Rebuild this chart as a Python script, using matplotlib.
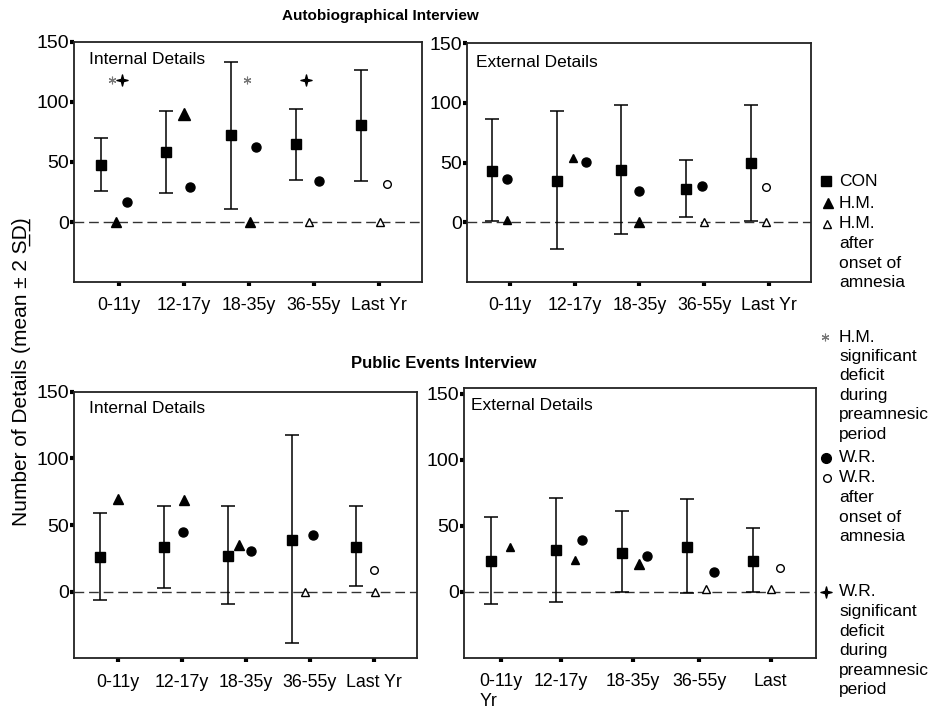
from __future__ import annotations

import matplotlib

matplotlib.use("Agg")
import matplotlib.pyplot as plt
import numpy as np
from matplotlib.path import Path

plt.rcParams["font.family"] = ["Liberation Sans", "DejaVu Sans"]

W, H = 936, 711

AGE_BINS = ["0-11y", "12-17y", "18-35y", "36-55y", "Last Yr"]
AGE_BINS_SHIFTED = ["0-11y\nYr", "12-17y", "18-35y", "36-55y", "Last"]
HM_AFTER_ONSET = [False, False, False, True, True]
WR_AFTER_ONSET = [False, False, False, False, True]
SIG_LEVEL = 118

# Autobiographical interview, internal details
AUTO_INT_CON = [47.8, 58.0, 72.2, 64.7, 80.6]
AUTO_INT_CON_LO = [26.0, 24.2, 11.1, 35.0, 33.9]
AUTO_INT_CON_HI = [70.0, 92.8, 133.4, 94.0, 127.0]
AUTO_INT_HM = [0, 90, 0, 0, 0]
AUTO_INT_WR = [16.4, 29.2, 62.5, 34.2, 31.4]
AUTO_INT_HM_SIG = [True, False, True, False, False]
AUTO_INT_WR_SIG = [True, False, False, True, False]

# Autobiographical interview, external details
AUTO_EXT_CON = [43.2, 34.9, 43.5, 28.1, 49.4]
AUTO_EXT_CON_LO = [1.0, -22.6, -9.5, 4.2, 1.0]
AUTO_EXT_CON_HI = [86.3, 93.5, 98.2, 52.4, 98.2]
AUTO_EXT_HM = [2, 53.6, 0, 0, 0]
AUTO_EXT_WR = [36.0, 50.2, 26.2, 30.7, 29.8]

# Public events interview, internal details
PUB_INT_CON = [26.0, 33.2, 27.0, 38.5, 33.2]
PUB_INT_CON_LO = [-6.2, 2.8, -9.2, -38.7, 4.3]
PUB_INT_CON_HI = [59.0, 64.5, 64.0, 117.8, 64.0]
PUB_INT_HM = [69.5, 68.8, 35.3, 0, 0]
PUB_INT_WR = [np.nan, 44.8, 30.8, 42.8, 16.3]

# Public events interview, external details
PUB_EXT_CON = [23.4, 31.4, 29.4, 34.0, 23.4]
PUB_EXT_CON_LO = [-8.8, -8.0, 0.0, -1.2, 0.0]
PUB_EXT_CON_HI = [56.6, 70.9, 61.1, 70.4, 48.6]
PUB_EXT_HM = [34.0, 24.0, 21.4, 2, 2]
PUB_EXT_WR = [np.nan, 39.5, 27.2, 15.1, 17.9]

PANELS = [
    {
        "title": "Internal Details",
        "con": AUTO_INT_CON, "lo": AUTO_INT_CON_LO, "hi": AUTO_INT_CON_HI,
        "hm": AUTO_INT_HM, "wr": AUTO_INT_WR,
        "hm_sig": AUTO_INT_HM_SIG, "wr_sig": AUTO_INT_WR_SIG,
        "labels": AGE_BINS,
        # layout
        "box": (74, 42, 422, 282), "xlim": (0.31, 5.67), "ylim": (-50, 150),
        "ticks": [1, 2, 3, 4, 5], "con_dx": -0.27,
        "hm_dx": [-0.05, 0, 0.02, -0.07, 0.03],
        "wr_dx": [0.13, 0.09, 0.12, 0.09, 0.13],
        "hm_sig_dx": [-0.11, 0, -0.03, 0, 0],
        "wr_sig_dx": [0.05, 0, 0, -0.12, 0],
        "hm_ms": [7, 8, 7, 6, 6],
        "title_pos": (0.044, 0.928),
    },
    {
        "title": "External Details",
        "con": AUTO_EXT_CON, "lo": AUTO_EXT_CON_LO, "hi": AUTO_EXT_CON_HI,
        "hm": AUTO_EXT_HM, "wr": AUTO_EXT_WR,
        "labels": AGE_BINS,
        "box": (466.7, 43.3, 811, 282), "xlim": (0.33, 5.65), "ylim": (-50, 150),
        "ticks": [1, 2, 3, 4, 5], "con_dx": -0.28,
        "hm_dx": [-0.05, -0.03, 0, 0, -0.05],
        "wr_dx": [-0.05, 0.17, 0, -0.04, -0.05],
        "hm_ms": [6, 6, 7, 6, 6],
        "title_pos": (0.027, 0.92),
    },
    {
        "title": "Internal Details",
        "con": PUB_INT_CON, "lo": PUB_INT_CON_LO, "hi": PUB_INT_CON_HI,
        "hm": PUB_INT_HM, "wr": PUB_INT_WR,
        "labels": AGE_BINS,
        "box": (74, 391.7, 416.7, 658.3), "xlim": (0.32, 5.67), "ylim": (-50, 150),
        "ticks": [1, 2, 3, 4, 5], "con_dx": -0.27,
        "hm_dx": [0.01, 0.04, -0.1, -0.07, 0.02],
        "wr_dx": [0, 0.02, 0.08, 0.05, 0],
        "hm_ms": [7, 7, 7, 6, 6],
        "title_pos": (0.045, 0.938),
    },
    {
        "title": "External Details",
        "con": PUB_EXT_CON, "lo": PUB_EXT_CON_LO, "hi": PUB_EXT_CON_HI,
        "hm": PUB_EXT_HM, "wr": PUB_EXT_WR,
        "labels": AGE_BINS_SHIFTED,
        "box": (464.3, 388.3, 816, 658), "xlim": (0.33, 5.69), "ylim": (-50, 154),
        "ticks": [0.89, 1.8, 2.9, 3.91, 5.0], "con_dx": -0.27,
        "hm_dx": [0.02, 0.02, 0, 0.02, 0.01],
        "wr_dx": [0, 0.13, 0.12, 0.13, 0.14],
        "hm_ms": [5.5, 5.5, 7, 6, 6],
        "title_pos": (0.018, 0.938),
    },
]

LEGEND = [
    ("s", "fill", ["CON"], 181),
    ("^", "fill", ["H.M."], 203),
    ("^", "open", ["H.M.", "after", "onset of", "amnesia"], 224),
    ("ast", "fill", ["H.M.", "significant", "deficit", "during", "preamnesic", "period"], 337),
    ("o", "fill", ["W.R."], 458),
    ("o", "open", ["W.R.", "after", "onset of", "amnesia"], 478),
    ("star", "fill", ["W.R.", "significant", "deficit", "during", "preamnesic", "period"], 592),
]


def four_point_star(inner=0.28):
    verts = []
    for k in range(8):
        ang = np.pi / 2 + k * np.pi / 4
        r = 1.0 if k % 2 == 0 else inner
        verts.append((r * np.cos(ang), r * np.sin(ang)))
    verts.append(verts[0])
    return Path(verts, closed=True)


STAR = four_point_star()
ASTERISK = (6, 2, 0)


def px_rect(left, top, right, bottom):
    return [left / W, 1 - bottom / H, (right - left) / W, (bottom - top) / H]


def draw_panel(fig, panel):
    ax = fig.add_axes(px_rect(*panel["box"]))
    base = np.arange(1, 6)
    con = np.array(panel["con"])
    lo = np.array(panel["lo"])
    hi = np.array(panel["hi"])

    ax.axhline(0, color="#333333", lw=1.0, dashes=(7, 3.5), zorder=1)
    ax.errorbar(base + panel["con_dx"], con, yerr=[con - lo, hi - con], fmt="s",
                color="black", ms=7, capsize=5, elinewidth=1.1, capthick=1.1, zorder=3)

    hm_x = base + np.array(panel["hm_dx"])
    for x, y, after, ms in zip(hm_x, panel["hm"], HM_AFTER_ONSET, panel["hm_ms"]):
        face = "white" if after else "black"
        ax.plot(x, y, "^", mfc=face, mec="black", mew=1, ms=ms, zorder=4)

    wr_x = base + np.array(panel["wr_dx"])
    for x, y, after in zip(wr_x, panel["wr"], WR_AFTER_ONSET):
        if np.isnan(y):
            continue
        if after:
            ax.plot(x, y, "o", mfc="white", mec="black", mew=1, ms=5.5, zorder=4)
        else:
            ax.plot(x, y, "o", color="black", ms=6.5, zorder=4)

    if "hm_sig" in panel:
        for i, sig in enumerate(panel["hm_sig"]):
            if sig:
                ax.plot(base[i] + panel["hm_sig_dx"][i], SIG_LEVEL, marker=ASTERISK,
                        color="#777777", ms=5.5, mew=0.8)
        for i, sig in enumerate(panel["wr_sig"]):
            if sig:
                ax.plot(base[i] + panel["wr_sig_dx"][i], SIG_LEVEL, marker=STAR,
                        color="black", ms=8)

    ax.set_xlim(*panel["xlim"])
    ax.set_ylim(*panel["ylim"])
    ax.set_xticks(panel["ticks"])
    ax.set_xticklabels(panel["labels"], fontsize=12.8)
    for label in ax.get_xticklabels():
        label.set_multialignment("left")
    ax.set_yticks([0, 50, 100, 150])
    ax.tick_params(axis="x", direction="out", length=3, width=3, pad=8)
    ax.tick_params(axis="y", direction="out", length=3, width=3, pad=0.5, labelsize=14)
    for spine in ax.spines.values():
        spine.set_linewidth(1.3)
        spine.set_color("#222222")

    tx, ty = panel["title_pos"]
    ax.text(tx, ty, panel["title"], transform=ax.transAxes, fontsize=12.5,
            ha="left", va="center")
    return ax


def draw_legend(fig):
    lax = fig.add_axes([0, 0, 1, 1], zorder=-1)
    lax.set_xlim(0, W)
    lax.set_ylim(H, 0)
    lax.axis("off")
    step = 19.5
    for marker, style, lines, y in LEGEND:
        if marker == "ast":
            lax.plot(825, y, marker=ASTERISK, color="#777777", ms=5.5, mew=0.8)
        elif marker == "star":
            lax.plot(826, y, marker=STAR, color="black", ms=8)
        elif style == "open":
            ms = 5.5 if marker == "o" else 6
            lax.plot(827, y, marker, mfc="white", mec="black", mew=1, ms=ms)
        else:
            ms = {"s": 6.5, "^": 7, "o": 7}[marker]
            lax.plot(826 if marker != "^" else 828, y, marker, color="black", ms=ms)
        for k, line in enumerate(lines):
            lax.text(839, y + k * step, line, fontsize=12.5, ha="left", va="center")


fig = plt.figure(figsize=(W / 100, H / 100), dpi=100)
draw_legend(fig)
for panel in PANELS:
    draw_panel(fig, panel)

fig.text(380 / W, 1 - 16 / H, "Autobiographical Interview", fontsize=11,
         fontweight="bold", ha="center", va="center")
fig.text(444 / W, 1 - 363 / H, "Public Events Interview", fontsize=12,
         fontweight="bold", ha="center", va="center")
fig.text(21 / W, 1 - 372 / H, "Number of Details (mean \u00b1 2 S\u0332D\u0332)",
         fontsize=15, rotation=90, ha="center", va="center")

fig.savefig("out.png", dpi=100)
